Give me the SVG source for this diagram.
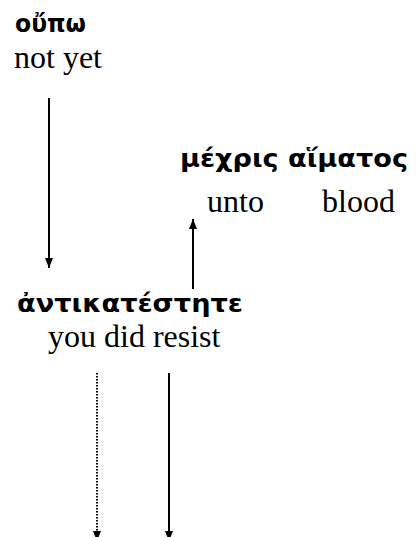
<svg xmlns="http://www.w3.org/2000/svg" width="416" height="537" viewBox="0 0 416 537">
<defs>
<marker id="ah" markerWidth="10" markerHeight="8" refX="10" refY="4" orient="auto" markerUnits="userSpaceOnUse" viewBox="0 0 10 8">
<path d="M0,0 L10,4 L0,8 Z" fill="#000"/>
</marker>
<style>
.gk{font-family:"DejaVu Sans","Noto Sans",sans-serif;font-weight:bold;font-size:24px;fill:#000}
.en{font-family:"Liberation Serif","Times New Roman",serif;font-size:32px;fill:#000}
.ln{stroke:#000;stroke-width:2;fill:none}
.dt{stroke:#000;stroke-width:2;fill:none;stroke-dasharray:1.5 1.5}
</style>
</defs>
<rect width="416" height="537" fill="#fff"/>
<g id="node-oupo">
<text class="gk" x="15" y="32" textLength="71" lengthAdjust="spacingAndGlyphs">οὔπω</text>
<text class="en" x="14" y="68">not yet</text>
</g>
<g id="node-mechris">
<text class="gk" x="180" y="167" textLength="228" lengthAdjust="spacingAndGlyphs">μέχρις αἵματος</text>
<text class="en" x="207" y="212">unto</text>
<text class="en" x="322" y="212">blood</text>
</g>
<g id="node-antikatestete">
<text class="gk" x="17" y="312" textLength="226" lengthAdjust="spacingAndGlyphs">ἀντικατέστητε</text>
<text class="en" x="48" y="347">you did resist</text>
</g>
<g id="connectors">
<path class="ln" d="M49,98 V268" marker-end="url(#ah)"/>
<path class="ln" d="M193,289 V219" marker-end="url(#ah)"/>
<path class="dt" d="M97,373 V541" marker-end="url(#ah)"/>
<path class="ln" d="M169,373 V541" marker-end="url(#ah)"/>
</g>
</svg>
